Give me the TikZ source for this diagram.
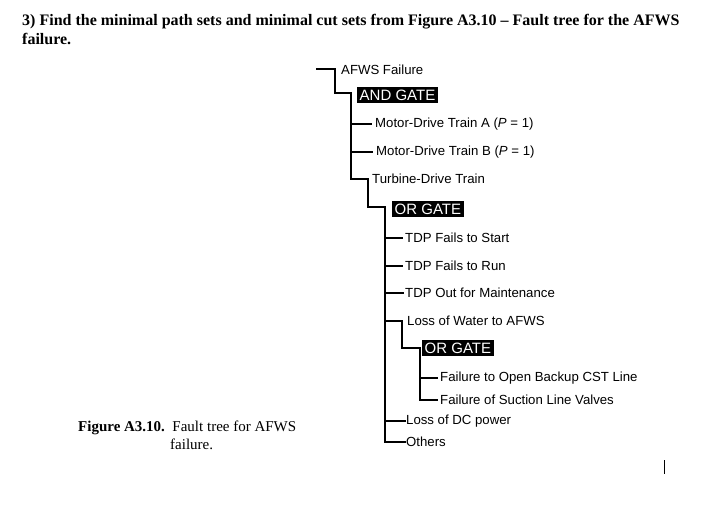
\documentclass[tikz,border=0pt]{standalone}
\usepackage{fontspec}
\setmainfont{Liberation Serif}
\newfontfamily\treefont{Liberation Sans}
\begin{document}
\begin{tikzpicture}[x=1pt,y=-1pt,
  lbl/.style={anchor=west,inner sep=0pt,font=\treefont\fontsize{13.2}{15}\selectfont},
  gatebox/.style={anchor=west,fill=black,text=white,inner xsep=2.5pt,inner ysep=2.5pt,font=\treefont\fontsize{15}{17}\selectfont},
  wire/.style={line width=1.2pt,line cap=rect}]
\useasboundingbox (0,0) rectangle (710,514);
% title
\node[anchor=base west,inner sep=0pt,font=\bfseries\fontsize{16}{19}\selectfont] (t1) at (22,25) {3) Find the minimal path sets and minimal cut sets from Figure A3.10 -- Fault tree for the AFWS};
\node[anchor=base west,inner sep=0pt,font=\bfseries\fontsize{16}{19}\selectfont] (t2) at (22,45) {failure.};
% caption
\node[anchor=base west,inner sep=0pt,font=\fontsize{15}{17}\selectfont] (c1) at (78,431) {\textbf{Figure A3.10.}\ \ Fault tree for AFWS};
\node[anchor=base west,inner sep=0pt,font=\fontsize{15}{17}\selectfont] (c2) at (170,449) {failure.};
% tree nodes
\node[lbl] (top) at (341,70) {AFWS Failure};
\node[gatebox] (and) at (357,95) {AND GATE};
\node[lbl] (ma) at (375,124) {Motor-Drive Train A (\textit{P} = 1)};
\node[lbl] (mb) at (376,152) {Motor-Drive Train B (\textit{P} = 1)};
\node[lbl] (tdt) at (372,179) {Turbine-Drive Train};
\node[gatebox] (or1) at (392,209) {OR GATE};
\node[lbl] (s1) at (405,238) {TDP Fails to Start};
\node[lbl] (s2) at (405,266) {TDP Fails to Run};
\node[lbl] (s3) at (405,293) {TDP Out for Maintenance};
\node[lbl] (lw) at (407,321) {Loss of Water to AFWS};
\node[gatebox] (or2) at (422,348) {OR GATE};
\node[lbl] (f1) at (440,378) {Failure to Open Backup CST Line};
\node[lbl] (f2) at (440,400) {Failure of Suction Line Valves};
\node[lbl] (dc) at (406,421) {Loss of DC power};
\node[lbl] (oth) at (406,442) {Others};
% spine coordinates
\coordinate (a0) at (317,69);
\coordinate (a1) at (335,69);
\coordinate (a2) at (335,93);
\coordinate (b0) at (351,93);
\coordinate (c0) at (368,179);
\coordinate (c1s) at (368,207);
\coordinate (d0) at (385,207);
\coordinate (e0) at (402,321);
\coordinate (e1) at (402,348);
\coordinate (g0) at (420,348);
% connectors
\draw[wire] (a0) -- (a1) -- (a2) -- (b0) -- (b0 |- c0) -- (c0) -- (c1s) -- (d0) -- (d0 |- oth) -- ([xshift=-1pt]oth.west);
\draw[wire] (b0 |- ma) -- ([xshift=-4pt]ma.west);
\draw[wire] (b0 |- mb) -- ([xshift=-4pt]mb.west);
\draw[wire] (d0 |- s1) -- ([xshift=-3pt]s1.west);
\draw[wire] (d0 |- s2) -- ([xshift=-3pt]s2.west);
\draw[wire] (d0 |- s3) -- ([xshift=-2pt]s3.west);
\draw[wire] (d0 |- e0) -- (e0) -- (e1) -- (g0) -- (g0 |- f2) -- ([xshift=-3pt]f2.west);
\draw[wire] (g0 |- f1) -- ([xshift=-3pt]f1.west);
\draw[wire] (d0 |- dc) -- ([xshift=-1pt]dc.west);
% stray cursor mark
\coordinate (m0) at (664,460);
\coordinate (m1) at (664,474);
\draw[line width=1pt] (m0) -- (m1);
\end{tikzpicture}
\end{document}
